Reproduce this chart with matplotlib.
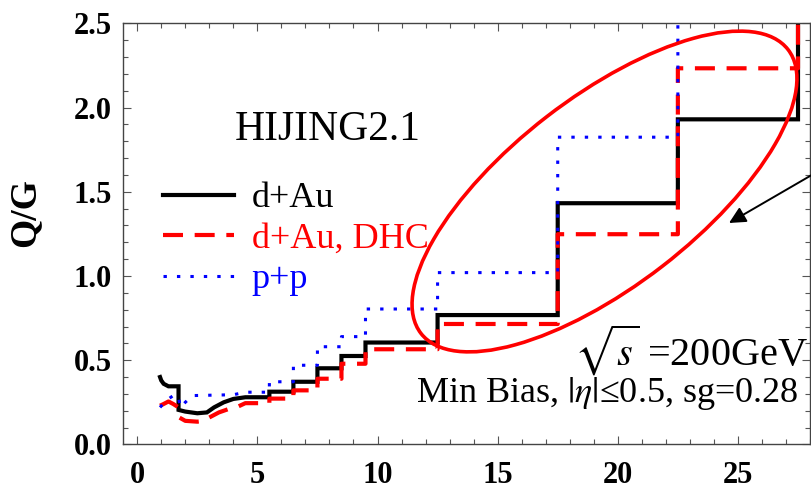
import matplotlib
matplotlib.use("Agg")
import matplotlib.pyplot as plt
from matplotlib.lines import Line2D
from matplotlib.patches import Ellipse
from matplotlib.transforms import IdentityTransform
import numpy as np

matplotlib.rcParams["font.family"] = "Liberation Serif"
matplotlib.rcParams["mathtext.fontset"] = "stix"
matplotlib.rcParams["figure.dpi"] = 100

# low-pT part (fine binning), read as (pT, Q/G)
dau_low_x = [0.95, 1.0, 1.1, 1.3, 1.72, 1.72, 2.0, 2.5, 2.9, 3.2, 3.6, 4.0, 4.5]
dau_low_y = [0.40, 0.38, 0.36, 0.345, 0.345, 0.205, 0.195, 0.185, 0.19, 0.22, 0.25, 0.27, 0.28]
dhc_low_x = [0.95, 1.1, 1.3, 1.5, 1.72, 1.75, 2.0, 2.5, 2.8, 3.0, 3.4, 3.8, 4.2, 4.5]
dhc_low_y = [0.23, 0.24, 0.255, 0.24, 0.22, 0.16, 0.14, 0.135, 0.14, 0.16, 0.19, 0.21, 0.225, 0.245]
pp_low_x = [0.95, 1.2, 1.5, 1.7, 1.8, 2.0, 2.3, 4.0, 4.5]
pp_low_y = [0.22, 0.26, 0.29, 0.29, 0.22, 0.25, 0.29, 0.295, 0.31]

# coarse bins at higher pT
bin_edges = [4.5, 5.5, 6.5, 7.5, 8.5, 9.5, 12.5, 17.5, 22.5, 27.5, 28.5]
dau_bins = [0.28, 0.313, 0.372, 0.452, 0.525, 0.605, 0.768, 1.432, 1.930, 2.90]
dhc_bins = [0.245, 0.272, 0.321, 0.390, 0.479, 0.565, 0.715, 1.248, 2.233, 2.70]
pp_bins = [0.31, 0.372, 0.47, 0.58, 0.64, 0.804, 1.02, 1.824, 2.75, 3.0]


def full_curve(low_x, low_y, edges, vals):
    sx = np.repeat(edges, 2)[1:-1]
    sy = np.repeat(vals, 2)
    return np.concatenate([low_x, sx]), np.concatenate([low_y, sy])


fig = plt.figure(figsize=(8.11, 4.92))
ax = fig.add_axes([0.152, 0.0967, 0.8468, 0.8559])

x, y = full_curve(dau_low_x, dau_low_y, bin_edges, dau_bins)
ax.plot(x, y, color="black", lw=3.0, solid_joinstyle="miter")
x, y = full_curve(dhc_low_x, dhc_low_y, bin_edges, dhc_bins)
ax.plot(x, y, color="#ff0000", lw=3.0, dashes=(4.8, 2.8))
x, y = full_curve(pp_low_x, pp_low_y, bin_edges, pp_bins)
ax.plot(x, y, color="#0000ff", lw=2.2, dashes=(1.1, 3.3))

ax.set_xlim(-0.58, 28.0)
ax.set_ylim(0, 2.5)
ax.set_xticks([0, 5, 10, 15, 20, 25])
ax.set_xticks(np.arange(0, 29, 1), minor=True)
ax.set_yticks([0.0, 0.5, 1.0, 1.5, 2.0, 2.5])
ax.set_yticks(np.arange(0, 2.51, 0.1), minor=True)
ax.set_yticklabels(["0.0", "0.5", "1.0", "1.5", "2.0", "2.5"])
ax.tick_params(which="both", direction="in", top=True, right=True,
               color="#555555", width=0.8, labelsize=22)
ax.tick_params(which="major", length=5.8)
ax.tick_params(which="minor", length=3.6)
ax.tick_params(axis="x", pad=12)
ax.tick_params(axis="y", pad=8)
for lab in ax.get_xticklabels() + ax.get_yticklabels():
    lab.set_fontweight("bold")
for s in ax.spines.values():
    s.set_color("#444444")
    s.set_linewidth(1.0)

ax.set_ylabel("Q/G", fontsize=27, fontweight="bold")
ax.yaxis.set_label_coords(-0.118, 0.55)

handles = [Line2D([], [], color="black", lw=3.0),
           Line2D([], [], color="#ff0000", lw=3.0, dashes=(4.8, 2.8)),
           Line2D([], [], color="#0000ff", lw=2.2, dashes=(1.1, 3.3))]
leg = ax.legend(handles, ["d+Au", "d+Au, DHC", "p+p"], loc="upper left",
                bbox_to_anchor=(0.011, 0.70), frameon=False, fontsize=26,
                handlelength=1.95, handletextpad=0.5, labelspacing=0.2,
                labelcolor=["black", "#ff0000", "#0000ff"])

ax.text(4.07, 1.867, "HIJING2.1", fontsize=30, va="center", ha="left")
ax.text(0.997, 0.56 / 2.5, r"$\sqrt{s}$ =200GeV", fontsize=29,
        transform=ax.transAxes, ha="right", va="center")
ax.text(27.5, 0.305, r"Min Bias, $|\eta|$≤0.5, sg=0.28", fontsize=26,
        ha="right", va="center")

# highlighted region and pointer, in figure pixels
ell = Ellipse((604.5, 492 - 191.5), 464, 189, angle=37.7, fill=False,
              edgecolor="#ff0000", lw=2.6, transform=IdentityTransform(),
              clip_on=False)
fig.add_artist(ell)
ax.annotate("", xy=(729, 492 - 223), xycoords="figure pixels",
            xytext=(860, 492 - 147), textcoords="figure pixels",
            arrowprops=dict(arrowstyle="-|>", color="black", lw=1.4,
                            mutation_scale=25, shrinkA=0, shrinkB=0),
            annotation_clip=False)

fig.savefig("out.png", dpi=100)
